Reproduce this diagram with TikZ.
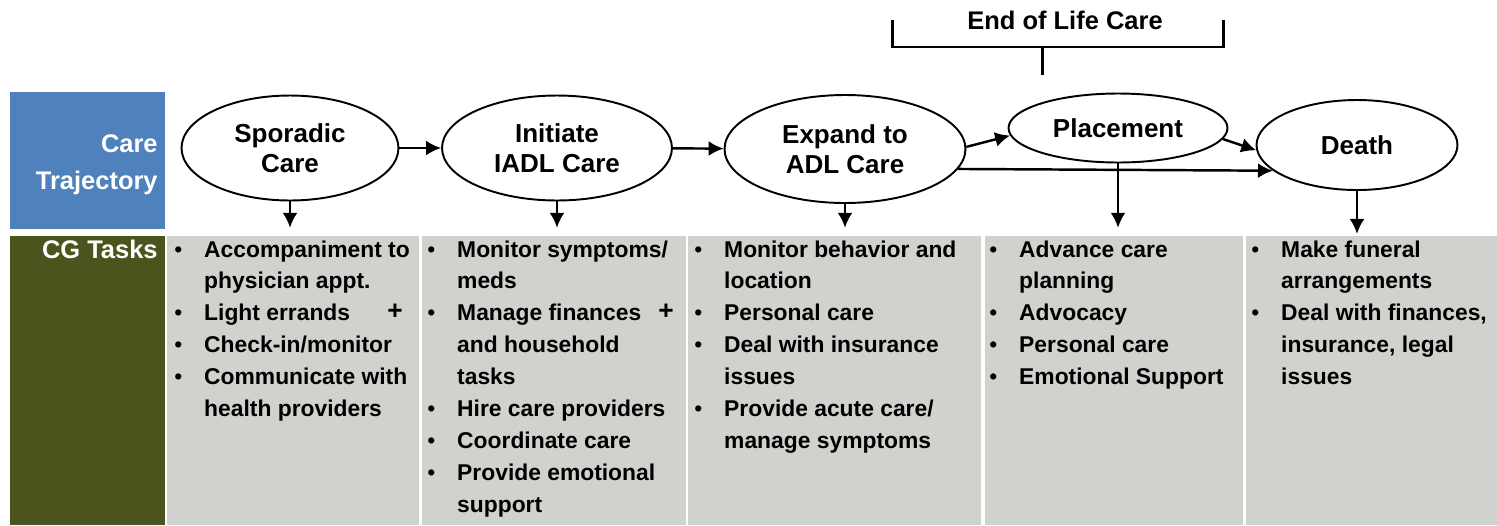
\documentclass[tikz,border=0pt]{standalone}
\usepackage{fontspec}
\setmainfont{Liberation Sans}
\usetikzlibrary{arrows.meta,shapes.geometric}
\definecolor{trajblue}{HTML}{4F81BD}
\definecolor{taskgreen}{HTML}{4A541C}
\definecolor{taskgray}{HTML}{D0D2CE}
% bullet column + text column, rows set by the node font
\newcommand{\tasklist}[1]{\begin{tabular}[t]{@{}p{17pt}@{}l@{}}#1\end{tabular}}
\newcommand{\bul}{{\mdseries\textbullet}}

\begin{document}
\begin{tikzpicture}[x=0.02cm,y=-0.02cm]
	\tikzset{stage/.style = {shape=ellipse,draw,line width=1.1pt,inner sep=0pt,align=center,font=\fontsize{14.8}{17}\selectfont\bfseries}}
	\tikzset{link/.style = {->,> = {Latex[length=8.5pt,width=8.5pt]},line width=1.4pt}}
	\tikzset{column/.style = {fill=taskgray,minimum height=5.78cm,inner sep=0pt}}
	\tikzset{tasks/.style = {anchor=base west,inner sep=0pt,font=\fontsize{13}{18.15}\selectfont\bfseries}}
	\tikzset{header/.style = {text=white,inner sep=0pt,font=\fontsize{14.5}{21}\selectfont\bfseries}}
	\useasboundingbox (0,0) rectangle (1497,525);
	% row headers
	\fill[trajblue] (10,92) rectangle (165,229);
	\fill[taskgreen] (10,236) rectangle (165,525);
	\node[header,align=right,anchor=east] (traj) at (158,165) {Care\\Trajectory};
	\node[header,anchor=base east] (cg) at (158,258) {CG Tasks};
	% grey task columns
	\node[column,minimum width=5.05cm] (c1) at (293,380.5) {};
	\node[column,minimum width=5.28cm] (c2) at (554,380.5) {};
	\node[column,minimum width=5.86cm] (c3) at (834.5,380.5) {};
	\node[column,minimum width=5.16cm] (c4) at (1114,380.5) {};
	\node[column,minimum width=5.02cm] (c5) at (1371.5,380.5) {};
	% task lists
	\node[tasks] (t1) at (174,257) {\tasklist{%
		\bul & Accompaniment to\\
		 & physician appt.\\
		\bul & Light errands\\
		\bul & Check-in/monitor\\
		\bul & Communicate with\\
		 & health providers}};
	\node[tasks] (t2) at (427,257) {\tasklist{%
		\bul & Monitor symptoms/\\
		 & meds\\
		\bul & Manage finances\\
		 & and household\\
		 & tasks\\
		\bul & Hire care providers\\
		\bul & Coordinate care\\
		\bul & Provide emotional\\
		 & support}};
	\node[tasks] (t3) at (694,257) {\tasklist{%
		\bul & Monitor behavior and\\
		 & location\\
		\bul & Personal care\\
		\bul & Deal with insurance\\
		 & issues\\
		\bul & Provide acute care/\\
		 & manage symptoms}};
	\node[tasks] (t4) at (989,257) {\tasklist{%
		\bul & Advance care\\
		 & planning\\
		\bul & Advocacy\\
		\bul & Personal care\\
		\bul & Emotional Support}};
	\node[tasks] (t5) at (1251,257) {\tasklist{%
		\bul & Make funeral\\
		 & arrangements\\
		\bul & Deal with finances,\\
		 & insurance, legal\\
		 & issues}};
	\node[font=\fontsize{15}{17}\selectfont\bfseries,inner sep=0pt] (plus1) at (395,312) {+};
	\node[font=\fontsize{15}{17}\selectfont\bfseries,inner sep=0pt] (plus2) at (666,312) {+};
	% trajectory stages
	\node[stage,minimum width=4.34cm,minimum height=2.1cm] (spor) at (290,148) {Sporadic\\Care};
	\node[stage,minimum width=4.6cm,minimum height=2.1cm] (init) at (557,148) {Initiate\\IADL Care};
	\node[stage,minimum width=4.82cm,minimum height=2.16cm] (exp) at (845,149) {Expand to\\ADL Care};
	\node[stage,minimum width=4.38cm,minimum height=1.38cm] (plac) at (1118,128) {Placement};
	\node[stage,minimum width=4.02cm,minimum height=1.8cm] (death) at (1357,145) {Death};
	\path[link] (spor) edge (init);
	\path[link] (init) edge (exp);
	\path[link] (exp.1) edge (plac.184);
	\path[link] (plac.-6) edge (death.183);
	\path[link] (exp.-10.7) edge (death.197);
	% down to the task columns
	\path[link,shorten >=4.5pt] (spor.south) edge (spor.south |- c1.north);
	\path[link,shorten >=4.5pt] (init.south) edge (init.south |- c2.north);
	\path[link,shorten >=4.5pt] (exp.south) edge (exp.south |- c3.north);
	\path[link,shorten >=4.5pt] (plac.south) edge (plac.south |- c4.north);
	\path[link,shorten >=1pt] (death.south) edge (death.south |- c5.north);
	% end of life bracket
	\node[font=\fontsize{14.5}{17}\selectfont\bfseries,inner sep=0pt] (eol) at (1065,20) {End of Life Care};
	\coordinate (brk) at (1042,47);
	\draw[line width=1.7pt] (892,20) |- (1223,47) -- (1223,20);
	\draw[line width=1.7pt] (brk) -- (1042,75);
\end{tikzpicture}
\end{document}
